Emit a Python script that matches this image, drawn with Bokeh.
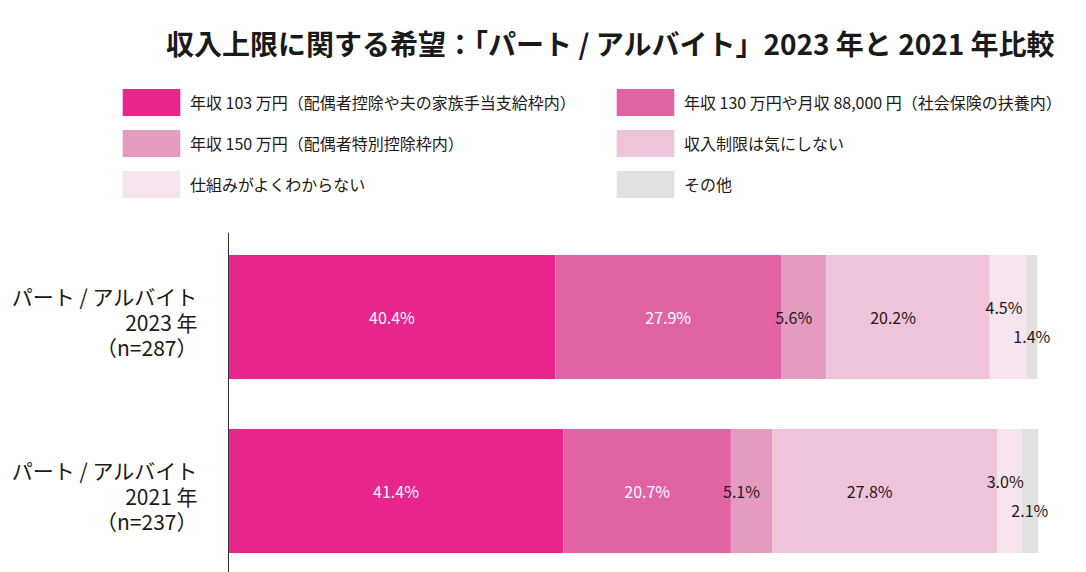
from bokeh.plotting import figure
from bokeh.layouts import column
from bokeh.models import ColumnDataSource, Range1d, Legend, LegendItem, Label, Span
from bokeh.embed import file_html
from bokeh.resources import INLINE
from bokeh.core.properties import value

FONT = "Noto Sans CJK JP"

title_text = "収入上限に関する希望：「パート / アルバイト」2023 年と 2021 年比較"
groups = ["パート / アルバイト\n2023 年\n（n=287）", "パート / アルバイト\n2021 年\n（n=237）"]
categories = [
    "年収 103 万円（配偶者控除や夫の家族手当支給枠内）",
    "年収 130 万円や月収 88,000 円（社会保険の扶養内）",
    "年収 150 万円（配偶者特別控除枠内）",
    "収入制限は気にしない",
    "仕組みがよくわからない",
    "その他",
]
values_2023 = [40.4, 27.9, 5.6, 20.2, 4.5, 1.4]
values_2021 = [41.4, 20.7, 5.1, 27.8, 3.0, 2.1]
colors = ["#E8248F", "#E263A3", "#E49BC1", "#EFC3D9", "#F8E4EE", "#E1E1E1"]

series = [values_2023, values_2021]
ypos = [1, 0]
keys = [f"s{i}" for i in range(len(categories))]
data = {"y": ypos, "group": groups}
for i, k in enumerate(keys):
    data[k] = [s[i] for s in series]
source = ColumnDataSource(data)

W, H_TOP, H_BOT = 1086, 232, 340

# ---------- header: title + legend ----------
top = figure(width=W, height=H_TOP, x_range=Range1d(0, W), y_range=Range1d(0, H_TOP),
             output_backend="svg", toolbar_location=None,
             x_axis_location=None, y_axis_location=None, min_border=0)
top.outline_line_color = None
top.xgrid.visible = False
top.ygrid.visible = False

# legend proxies (hidden copies of the stacked bars)
proxies = top.hbar_stack(keys, y="y", height=0.7, color=colors, line_color=None, source=source)
for r in proxies:
    r.visible = False
items = [LegendItem(label=categories[i], renderers=[proxies[i]]) for i in range(len(categories))]
legend_style = dict(
    glyph_width=72, glyph_height=34, spacing=7, label_standoff=3,
    padding=0, margin=0, border_line_color=None, background_fill_alpha=0,
    label_text_font=FONT, label_text_font_size="16px", label_text_color="#231815",
    label_height=34,
)
top.add_layout(Legend(items=items[0::2], location=(115, 31), **legend_style))
top.add_layout(Legend(items=items[1::2], location=(609, 31), **legend_style))

top.add_layout(Label(x=610, y=H_TOP - 42, text=title_text,
                     text_align="center", text_baseline="middle",
                     text_font=FONT, text_font_size="28px", text_font_style="bold",
                     text_color="#1a1a1a"))

# ---------- bars ----------
PX_PER_PCT = 8.09
LEFT = 228
p = figure(
    width=W, height=H_BOT,
    x_range=Range1d(-LEFT / PX_PER_PCT, (W - LEFT) / PX_PER_PCT),
    y_range=Range1d(-0.4684, 1.4856),
    output_backend="svg", toolbar_location=None,
    x_axis_location=None, y_axis_location=None, min_border=0,
)
p.outline_line_color = None
p.xgrid.visible = False
p.ygrid.visible = False

p.hbar_stack(keys, y="y", height=0.713, color=colors, line_color=None, source=source)

# category axis line
p.add_layout(Span(location=0, dimension="height", line_color="#333333", line_width=1))

# category labels
p.text(x=0, y="y", text="group", source=source, x_offset=-31, y_offset=5,
       text_align="right", text_baseline="middle", text_line_height=0.85,
       text_font=value(FONT), text_font_size="21px", text_color="#231815")

# value labels
lx, ly, lt, lc, dx, dy = [], [], [], [], [], []
for gi, vals in enumerate(series):
    cum = 0.0
    for i, v in enumerate(vals):
        lx.append(cum + v / 2)
        cum += v
        ly.append(ypos[gi])
        lt.append(f"{v:.1f}%")
        lc.append("white" if i < 2 else "#231815")
        dx.append({2: -10, 3: -15, 4: -4}.get(i, 0))
        dy.append({4: -10, 5: 19}.get(i, 0))
lsrc = ColumnDataSource(dict(x=lx, y=ly, text=lt, color=lc, dx=dx, dy=dy))
p.text("x", "y", text="text", source=lsrc, text_color="color", x_offset="dx", y_offset="dy",
       text_align="center", text_baseline="middle",
       text_font=value(FONT), text_font_size="16px")

layout = column(top, p, spacing=0)
open("out.html", "w").write(file_html(layout, INLINE))
